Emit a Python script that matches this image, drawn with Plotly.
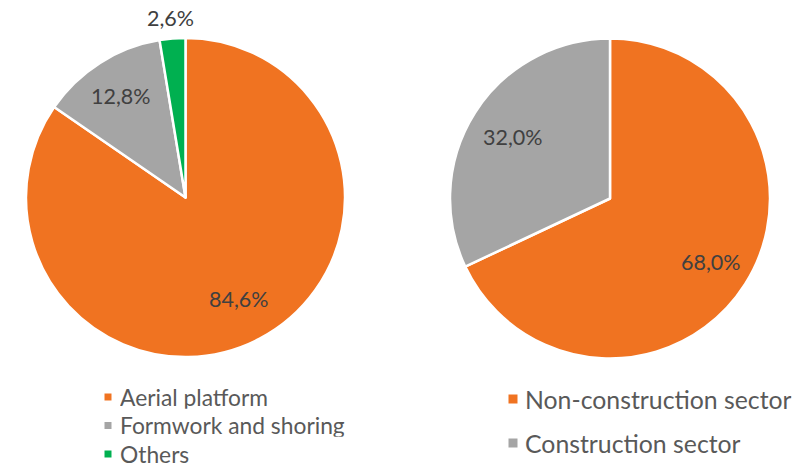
import math
import plotly.graph_objects as go

W, H = 807, 469

# Left pie: product mix
mix_labels = ["Aerial platform", "Formwork and shoring", "Others"]
mix_values = [84.6, 12.8, 2.6]
mix_colors = ["#F07321", "#A5A5A5", "#00B050"]

# Right pie: customer sector
sector_labels = ["Non-construction sector", "Construction sector"]
sector_values = [68.0, 32.0]
sector_colors = ["#F07321", "#A5A5A5"]

LABEL_FONT = dict(family="Lato", size=21.5, color="#404040")


def px_x(x):
    return x / W


def px_y(y):
    return 1 - y / H


fig = go.Figure()
annotations, shapes = [], []


def add_pie(labels, values, colors, cx, cy, r, label_radius):
    """Pie drawn clockwise from 12 o'clock, with value labels along each slice's mid-angle."""
    fig.add_trace(go.Pie(
        labels=labels, values=values,
        marker=dict(colors=colors, line=dict(color="white", width=2.5)),
        sort=False, direction="clockwise", rotation=0,
        textinfo="none",
        domain=dict(x=[px_x(cx - r), px_x(cx + r)], y=[px_y(cy + r), px_y(cy - r)]),
        showlegend=False, hoverinfo="label+percent",
    ))
    total = sum(values)
    start = 0.0
    for v, f in zip(values, label_radius):
        mid = (start + v / 2) / total * 2 * math.pi
        start += v
        x = cx + f * r * math.sin(mid)
        y = cy - f * r * math.cos(mid)
        annotations.append(dict(
            text=f"{v / total * 100:.1f}%".replace(".", ","),
            xref="paper", yref="paper", x=px_x(x), y=px_y(y),
            xanchor="center", yanchor="middle", showarrow=False,
            font=LABEL_FONT,
        ))


add_pie(mix_labels, mix_values, mix_colors, 185.5, 197.5, 159.5, [0.72, 0.75, 1.13])
add_pie(sector_labels, sector_values, sector_colors, 610, 198.5, 160, [0.745, 0.72])


def add_legend(labels, colors, x, y0, step, size, font_size):
    """Legend entries: a colour square followed by the category name."""
    for i, (lab, col) in enumerate(zip(labels, colors)):
        y = y0 + i * step
        shapes.append(dict(
            type="rect", xref="paper", yref="paper",
            x0=px_x(x - size / 2), x1=px_x(x + size / 2),
            y0=px_y(y + size / 2), y1=px_y(y - size / 2),
            fillcolor=col, line=dict(width=0),
        ))
        annotations.append(dict(
            text=lab, xref="paper", yref="paper",
            x=px_x(x + 11), y=px_y(y), xanchor="left", yanchor="middle",
            height=font_size, borderpad=0, showarrow=False,
            font=dict(family="Lato", size=font_size, color="#595959"),
        ))


add_legend(mix_labels, mix_colors, 108, 397, 28.5, 7, 22.8)
add_legend(sector_labels, sector_colors, 513, 399, 44, 9, 24.8)

fig.update_layout(
    width=W, height=H,
    margin=dict(l=0, r=0, t=0, b=0),
    paper_bgcolor="white", plot_bgcolor="white",
    shapes=shapes, annotations=annotations,
)

fig.write_html("out.html")
